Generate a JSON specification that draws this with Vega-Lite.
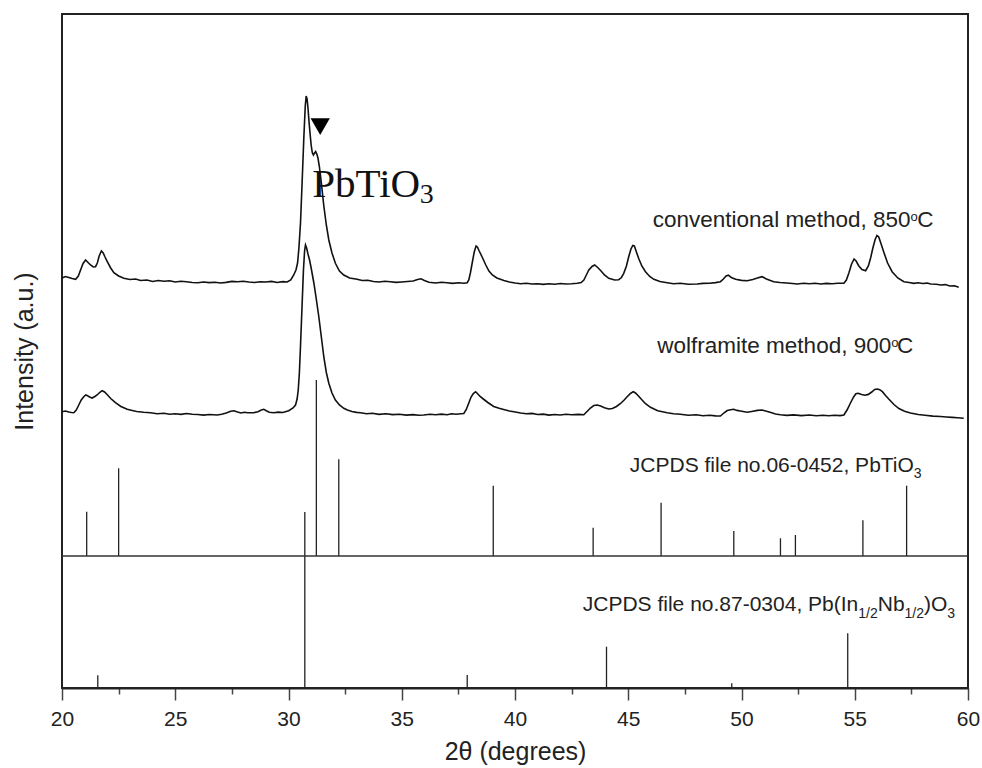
{
  "$schema": "https://vega.github.io/schema/vega-lite/v6.json",
  "width": 906,
  "height": 674,
  "autosize": "none",
  "padding": {"left": 62, "top": 14, "right": 14, "bottom": 80},
  "background": "white",
  "config": {
    "view": {"stroke": "#222", "strokeWidth": 2},
    "font": "Liberation Sans",
    "axis": {"grid": false, "labelFont": "Liberation Sans", "titleFont": "Liberation Sans", "labelColor": "#222", "titleColor": "#222", "titleFontWeight": "normal"}
  },
  "datasets": {
    "scans": [
      {"sample": "conventional", "theta": 20.00, "intensity": 410},
      {"sample": "conventional", "theta": 20.15, "intensity": 411.5},
      {"sample": "conventional", "theta": 20.30, "intensity": 410.5},
      {"sample": "conventional", "theta": 20.45, "intensity": 409.5},
      {"sample": "conventional", "theta": 20.60, "intensity": 408.7},
      {"sample": "conventional", "theta": 20.72, "intensity": 412},
      {"sample": "conventional", "theta": 20.82, "intensity": 418},
      {"sample": "conventional", "theta": 20.93, "intensity": 424.5},
      {"sample": "conventional", "theta": 21.04, "intensity": 428},
      {"sample": "conventional", "theta": 21.15, "intensity": 425.5},
      {"sample": "conventional", "theta": 21.26, "intensity": 423},
      {"sample": "conventional", "theta": 21.38, "intensity": 421},
      {"sample": "conventional", "theta": 21.48, "intensity": 421.3},
      {"sample": "conventional", "theta": 21.56, "intensity": 425},
      {"sample": "conventional", "theta": 21.64, "intensity": 432},
      {"sample": "conventional", "theta": 21.74, "intensity": 437},
      {"sample": "conventional", "theta": 21.82, "intensity": 435},
      {"sample": "conventional", "theta": 21.90, "intensity": 431},
      {"sample": "conventional", "theta": 22.00, "intensity": 426.3},
      {"sample": "conventional", "theta": 22.15, "intensity": 420},
      {"sample": "conventional", "theta": 22.29, "intensity": 415.3},
      {"sample": "conventional", "theta": 22.50, "intensity": 412},
      {"sample": "conventional", "theta": 22.73, "intensity": 409.7},
      {"sample": "conventional", "theta": 23.00, "intensity": 408.5},
      {"sample": "conventional", "theta": 23.25, "intensity": 409},
      {"sample": "conventional", "theta": 23.47, "intensity": 407.5},
      {"sample": "conventional", "theta": 23.75, "intensity": 408},
      {"sample": "conventional", "theta": 24.00, "intensity": 406.5},
      {"sample": "conventional", "theta": 24.25, "intensity": 407.5},
      {"sample": "conventional", "theta": 24.50, "intensity": 406.8},
      {"sample": "conventional", "theta": 24.75, "intensity": 407.3},
      {"sample": "conventional", "theta": 25.00, "intensity": 406},
      {"sample": "conventional", "theta": 25.25, "intensity": 406.8},
      {"sample": "conventional", "theta": 25.50, "intensity": 406.2},
      {"sample": "conventional", "theta": 25.75, "intensity": 405.5},
      {"sample": "conventional", "theta": 26.00, "intensity": 405.2},
      {"sample": "conventional", "theta": 26.25, "intensity": 406},
      {"sample": "conventional", "theta": 26.50, "intensity": 405.4},
      {"sample": "conventional", "theta": 26.75, "intensity": 405.8},
      {"sample": "conventional", "theta": 27.00, "intensity": 405},
      {"sample": "conventional", "theta": 27.25, "intensity": 405.6},
      {"sample": "conventional", "theta": 27.50, "intensity": 406.6},
      {"sample": "conventional", "theta": 27.75, "intensity": 406.2},
      {"sample": "conventional", "theta": 28.00, "intensity": 406.8},
      {"sample": "conventional", "theta": 28.25, "intensity": 406},
      {"sample": "conventional", "theta": 28.50, "intensity": 405.5},
      {"sample": "conventional", "theta": 28.75, "intensity": 406.3},
      {"sample": "conventional", "theta": 29.00, "intensity": 406},
      {"sample": "conventional", "theta": 29.25, "intensity": 406.6},
      {"sample": "conventional", "theta": 29.50, "intensity": 405.5},
      {"sample": "conventional", "theta": 29.75, "intensity": 406.4},
      {"sample": "conventional", "theta": 29.94, "intensity": 406},
      {"sample": "conventional", "theta": 30.10, "intensity": 408},
      {"sample": "conventional", "theta": 30.23, "intensity": 413},
      {"sample": "conventional", "theta": 30.33, "intensity": 418},
      {"sample": "conventional", "theta": 30.40, "intensity": 425},
      {"sample": "conventional", "theta": 30.46, "intensity": 440},
      {"sample": "conventional", "theta": 30.53, "intensity": 465},
      {"sample": "conventional", "theta": 30.60, "intensity": 505},
      {"sample": "conventional", "theta": 30.68, "intensity": 552},
      {"sample": "conventional", "theta": 30.74, "intensity": 582},
      {"sample": "conventional", "theta": 30.78, "intensity": 592},
      {"sample": "conventional", "theta": 30.82, "intensity": 589},
      {"sample": "conventional", "theta": 30.86, "intensity": 580},
      {"sample": "conventional", "theta": 30.90, "intensity": 568},
      {"sample": "conventional", "theta": 30.95, "intensity": 555},
      {"sample": "conventional", "theta": 31.00, "intensity": 543},
      {"sample": "conventional", "theta": 31.05, "intensity": 535.5},
      {"sample": "conventional", "theta": 31.10, "intensity": 533},
      {"sample": "conventional", "theta": 31.15, "intensity": 535},
      {"sample": "conventional", "theta": 31.20, "intensity": 536.5},
      {"sample": "conventional", "theta": 31.25, "intensity": 534},
      {"sample": "conventional", "theta": 31.30, "intensity": 530},
      {"sample": "conventional", "theta": 31.36, "intensity": 522},
      {"sample": "conventional", "theta": 31.45, "intensity": 505},
      {"sample": "conventional", "theta": 31.56, "intensity": 482},
      {"sample": "conventional", "theta": 31.67, "intensity": 463},
      {"sample": "conventional", "theta": 31.78, "intensity": 448},
      {"sample": "conventional", "theta": 31.92, "intensity": 435},
      {"sample": "conventional", "theta": 32.07, "intensity": 424.7},
      {"sample": "conventional", "theta": 32.25, "intensity": 417},
      {"sample": "conventional", "theta": 32.44, "intensity": 413},
      {"sample": "conventional", "theta": 32.70, "intensity": 410},
      {"sample": "conventional", "theta": 33.03, "intensity": 408.7},
      {"sample": "conventional", "theta": 33.25, "intensity": 407.5},
      {"sample": "conventional", "theta": 33.50, "intensity": 407.8},
      {"sample": "conventional", "theta": 33.75, "intensity": 406.5},
      {"sample": "conventional", "theta": 34.00, "intensity": 406},
      {"sample": "conventional", "theta": 34.25, "intensity": 406.8},
      {"sample": "conventional", "theta": 34.50, "intensity": 406.2},
      {"sample": "conventional", "theta": 34.75, "intensity": 405.6},
      {"sample": "conventional", "theta": 35.00, "intensity": 406},
      {"sample": "conventional", "theta": 35.25, "intensity": 406.5},
      {"sample": "conventional", "theta": 35.50, "intensity": 407},
      {"sample": "conventional", "theta": 35.70, "intensity": 408.5},
      {"sample": "conventional", "theta": 35.85, "intensity": 409.2},
      {"sample": "conventional", "theta": 36.00, "intensity": 407.5},
      {"sample": "conventional", "theta": 36.20, "intensity": 405.8},
      {"sample": "conventional", "theta": 36.50, "intensity": 405},
      {"sample": "conventional", "theta": 36.75, "intensity": 405.7},
      {"sample": "conventional", "theta": 37.00, "intensity": 405.3},
      {"sample": "conventional", "theta": 37.25, "intensity": 404.6},
      {"sample": "conventional", "theta": 37.50, "intensity": 405.2},
      {"sample": "conventional", "theta": 37.75, "intensity": 404.8},
      {"sample": "conventional", "theta": 37.89, "intensity": 405.3},
      {"sample": "conventional", "theta": 37.96, "intensity": 408},
      {"sample": "conventional", "theta": 38.03, "intensity": 415},
      {"sample": "conventional", "theta": 38.11, "intensity": 425},
      {"sample": "conventional", "theta": 38.20, "intensity": 436},
      {"sample": "conventional", "theta": 38.28, "intensity": 442},
      {"sample": "conventional", "theta": 38.34, "intensity": 441},
      {"sample": "conventional", "theta": 38.42, "intensity": 437},
      {"sample": "conventional", "theta": 38.55, "intensity": 431},
      {"sample": "conventional", "theta": 38.70, "intensity": 423.5},
      {"sample": "conventional", "theta": 38.85, "intensity": 417},
      {"sample": "conventional", "theta": 39.00, "intensity": 413},
      {"sample": "conventional", "theta": 39.20, "intensity": 410},
      {"sample": "conventional", "theta": 39.51, "intensity": 407.5},
      {"sample": "conventional", "theta": 39.75, "intensity": 406},
      {"sample": "conventional", "theta": 40.00, "intensity": 405},
      {"sample": "conventional", "theta": 40.25, "intensity": 404.2},
      {"sample": "conventional", "theta": 40.50, "intensity": 404.8},
      {"sample": "conventional", "theta": 40.75, "intensity": 404},
      {"sample": "conventional", "theta": 41.00, "intensity": 404.3},
      {"sample": "conventional", "theta": 41.25, "intensity": 403.6},
      {"sample": "conventional", "theta": 41.50, "intensity": 404.2},
      {"sample": "conventional", "theta": 41.75, "intensity": 403.8},
      {"sample": "conventional", "theta": 42.00, "intensity": 404.5},
      {"sample": "conventional", "theta": 42.25, "intensity": 404},
      {"sample": "conventional", "theta": 42.50, "intensity": 404.2},
      {"sample": "conventional", "theta": 42.75, "intensity": 404.7},
      {"sample": "conventional", "theta": 42.92, "intensity": 405.5},
      {"sample": "conventional", "theta": 43.04, "intensity": 408},
      {"sample": "conventional", "theta": 43.15, "intensity": 413},
      {"sample": "conventional", "theta": 43.26, "intensity": 418},
      {"sample": "conventional", "theta": 43.40, "intensity": 421.5},
      {"sample": "conventional", "theta": 43.52, "intensity": 423},
      {"sample": "conventional", "theta": 43.65, "intensity": 420.5},
      {"sample": "conventional", "theta": 43.78, "intensity": 417.5},
      {"sample": "conventional", "theta": 43.95, "intensity": 413},
      {"sample": "conventional", "theta": 44.14, "intensity": 409.7},
      {"sample": "conventional", "theta": 44.40, "intensity": 408},
      {"sample": "conventional", "theta": 44.58, "intensity": 408.3},
      {"sample": "conventional", "theta": 44.70, "intensity": 410.5},
      {"sample": "conventional", "theta": 44.80, "intensity": 414.7},
      {"sample": "conventional", "theta": 44.92, "intensity": 422},
      {"sample": "conventional", "theta": 45.02, "intensity": 431.3},
      {"sample": "conventional", "theta": 45.12, "intensity": 439},
      {"sample": "conventional", "theta": 45.20, "intensity": 442.5},
      {"sample": "conventional", "theta": 45.27, "intensity": 442},
      {"sample": "conventional", "theta": 45.36, "intensity": 436},
      {"sample": "conventional", "theta": 45.47, "intensity": 429},
      {"sample": "conventional", "theta": 45.60, "intensity": 422},
      {"sample": "conventional", "theta": 45.76, "intensity": 416.3},
      {"sample": "conventional", "theta": 45.95, "intensity": 411.5},
      {"sample": "conventional", "theta": 46.13, "intensity": 408.7},
      {"sample": "conventional", "theta": 46.40, "intensity": 406.5},
      {"sample": "conventional", "theta": 46.72, "intensity": 405.3},
      {"sample": "conventional", "theta": 47.00, "intensity": 404.2},
      {"sample": "conventional", "theta": 47.30, "intensity": 404.8},
      {"sample": "conventional", "theta": 47.65, "intensity": 403.8},
      {"sample": "conventional", "theta": 48.04, "intensity": 404},
      {"sample": "conventional", "theta": 48.30, "intensity": 404.6},
      {"sample": "conventional", "theta": 48.60, "intensity": 404.8},
      {"sample": "conventional", "theta": 48.85, "intensity": 405.4},
      {"sample": "conventional", "theta": 49.07, "intensity": 406.3},
      {"sample": "conventional", "theta": 49.20, "intensity": 409},
      {"sample": "conventional", "theta": 49.32, "intensity": 412},
      {"sample": "conventional", "theta": 49.42, "intensity": 412.8},
      {"sample": "conventional", "theta": 49.55, "intensity": 410.5},
      {"sample": "conventional", "theta": 49.74, "intensity": 408.7},
      {"sample": "conventional", "theta": 50.00, "intensity": 407.6},
      {"sample": "conventional", "theta": 50.25, "intensity": 407.3},
      {"sample": "conventional", "theta": 50.50, "intensity": 408.5},
      {"sample": "conventional", "theta": 50.70, "intensity": 410},
      {"sample": "conventional", "theta": 50.91, "intensity": 411.3},
      {"sample": "conventional", "theta": 51.10, "intensity": 409},
      {"sample": "conventional", "theta": 51.42, "intensity": 406.3},
      {"sample": "conventional", "theta": 51.70, "intensity": 405.5},
      {"sample": "conventional", "theta": 52.00, "intensity": 405},
      {"sample": "conventional", "theta": 52.25, "intensity": 404.5},
      {"sample": "conventional", "theta": 52.46, "intensity": 404},
      {"sample": "conventional", "theta": 52.75, "intensity": 404.7},
      {"sample": "conventional", "theta": 53.00, "intensity": 404.3},
      {"sample": "conventional", "theta": 53.25, "intensity": 404.8},
      {"sample": "conventional", "theta": 53.50, "intensity": 404},
      {"sample": "conventional", "theta": 53.75, "intensity": 404.6},
      {"sample": "conventional", "theta": 54.00, "intensity": 404.2},
      {"sample": "conventional", "theta": 54.25, "intensity": 404.8},
      {"sample": "conventional", "theta": 54.52, "intensity": 404.7},
      {"sample": "conventional", "theta": 54.63, "intensity": 408},
      {"sample": "conventional", "theta": 54.74, "intensity": 415},
      {"sample": "conventional", "theta": 54.86, "intensity": 424},
      {"sample": "conventional", "theta": 54.97, "intensity": 429},
      {"sample": "conventional", "theta": 55.06, "intensity": 427},
      {"sample": "conventional", "theta": 55.18, "intensity": 422},
      {"sample": "conventional", "theta": 55.32, "intensity": 418.5},
      {"sample": "conventional", "theta": 55.48, "intensity": 417.3},
      {"sample": "conventional", "theta": 55.60, "intensity": 422},
      {"sample": "conventional", "theta": 55.70, "intensity": 430},
      {"sample": "conventional", "theta": 55.80, "intensity": 440},
      {"sample": "conventional", "theta": 55.90, "intensity": 448.5},
      {"sample": "conventional", "theta": 55.98, "intensity": 452.5},
      {"sample": "conventional", "theta": 56.06, "intensity": 451},
      {"sample": "conventional", "theta": 56.15, "intensity": 445},
      {"sample": "conventional", "theta": 56.28, "intensity": 436},
      {"sample": "conventional", "theta": 56.45, "intensity": 425},
      {"sample": "conventional", "theta": 56.65, "intensity": 416.3},
      {"sample": "conventional", "theta": 56.90, "intensity": 410},
      {"sample": "conventional", "theta": 57.17, "intensity": 406.3},
      {"sample": "conventional", "theta": 57.40, "intensity": 405.5},
      {"sample": "conventional", "theta": 57.60, "intensity": 404.6},
      {"sample": "conventional", "theta": 57.80, "intensity": 405.2},
      {"sample": "conventional", "theta": 58.00, "intensity": 404.5},
      {"sample": "conventional", "theta": 58.20, "intensity": 404.9},
      {"sample": "conventional", "theta": 58.35, "intensity": 404},
      {"sample": "conventional", "theta": 58.60, "intensity": 403.7},
      {"sample": "conventional", "theta": 58.80, "intensity": 403},
      {"sample": "conventional", "theta": 59.00, "intensity": 403.4},
      {"sample": "conventional", "theta": 59.20, "intensity": 402},
      {"sample": "conventional", "theta": 59.40, "intensity": 402.2},
      {"sample": "conventional", "theta": 59.59, "intensity": 400.7},
      {"sample": "wolframite", "theta": 20.00, "intensity": 276.3},
      {"sample": "wolframite", "theta": 20.15, "intensity": 277},
      {"sample": "wolframite", "theta": 20.30, "intensity": 276},
      {"sample": "wolframite", "theta": 20.42, "intensity": 275.5},
      {"sample": "wolframite", "theta": 20.52, "intensity": 275.3},
      {"sample": "wolframite", "theta": 20.63, "intensity": 278},
      {"sample": "wolframite", "theta": 20.74, "intensity": 283},
      {"sample": "wolframite", "theta": 20.85, "intensity": 288},
      {"sample": "wolframite", "theta": 20.96, "intensity": 291.3},
      {"sample": "wolframite", "theta": 21.05, "intensity": 293},
      {"sample": "wolframite", "theta": 21.11, "intensity": 292.5},
      {"sample": "wolframite", "theta": 21.22, "intensity": 291},
      {"sample": "wolframite", "theta": 21.33, "intensity": 290},
      {"sample": "wolframite", "theta": 21.45, "intensity": 291.5},
      {"sample": "wolframite", "theta": 21.55, "intensity": 293},
      {"sample": "wolframite", "theta": 21.66, "intensity": 295.5},
      {"sample": "wolframite", "theta": 21.77, "intensity": 297.3},
      {"sample": "wolframite", "theta": 21.88, "intensity": 296},
      {"sample": "wolframite", "theta": 21.99, "intensity": 293.5},
      {"sample": "wolframite", "theta": 22.15, "intensity": 289.5},
      {"sample": "wolframite", "theta": 22.36, "intensity": 285.3},
      {"sample": "wolframite", "theta": 22.60, "intensity": 281.5},
      {"sample": "wolframite", "theta": 22.88, "intensity": 278.7},
      {"sample": "wolframite", "theta": 23.10, "intensity": 277.5},
      {"sample": "wolframite", "theta": 23.30, "intensity": 276.5},
      {"sample": "wolframite", "theta": 23.60, "intensity": 275.7},
      {"sample": "wolframite", "theta": 23.91, "intensity": 275.3},
      {"sample": "wolframite", "theta": 24.20, "intensity": 274.3},
      {"sample": "wolframite", "theta": 24.50, "intensity": 274.8},
      {"sample": "wolframite", "theta": 24.75, "intensity": 273.8},
      {"sample": "wolframite", "theta": 25.00, "intensity": 274.2},
      {"sample": "wolframite", "theta": 25.25, "intensity": 273.6},
      {"sample": "wolframite", "theta": 25.50, "intensity": 274.5},
      {"sample": "wolframite", "theta": 25.75, "intensity": 273.7},
      {"sample": "wolframite", "theta": 26.00, "intensity": 273.5},
      {"sample": "wolframite", "theta": 26.25, "intensity": 272.9},
      {"sample": "wolframite", "theta": 26.50, "intensity": 273.5},
      {"sample": "wolframite", "theta": 26.85, "intensity": 273},
      {"sample": "wolframite", "theta": 27.05, "intensity": 273.8},
      {"sample": "wolframite", "theta": 27.25, "intensity": 275},
      {"sample": "wolframite", "theta": 27.45, "intensity": 276.8},
      {"sample": "wolframite", "theta": 27.59, "intensity": 277.3},
      {"sample": "wolframite", "theta": 27.75, "intensity": 276},
      {"sample": "wolframite", "theta": 27.90, "intensity": 275},
      {"sample": "wolframite", "theta": 28.05, "intensity": 275.7},
      {"sample": "wolframite", "theta": 28.20, "intensity": 275.2},
      {"sample": "wolframite", "theta": 28.47, "intensity": 275.3},
      {"sample": "wolframite", "theta": 28.65, "intensity": 276.3},
      {"sample": "wolframite", "theta": 28.80, "intensity": 278},
      {"sample": "wolframite", "theta": 28.91, "intensity": 278.7},
      {"sample": "wolframite", "theta": 29.02, "intensity": 277.3},
      {"sample": "wolframite", "theta": 29.15, "intensity": 275.8},
      {"sample": "wolframite", "theta": 29.35, "intensity": 275.3},
      {"sample": "wolframite", "theta": 29.55, "intensity": 275.9},
      {"sample": "wolframite", "theta": 29.75, "intensity": 275.5},
      {"sample": "wolframite", "theta": 30.01, "intensity": 277.3},
      {"sample": "wolframite", "theta": 30.20, "intensity": 280},
      {"sample": "wolframite", "theta": 30.31, "intensity": 283},
      {"sample": "wolframite", "theta": 30.38, "intensity": 289},
      {"sample": "wolframite", "theta": 30.43, "intensity": 298},
      {"sample": "wolframite", "theta": 30.48, "intensity": 315},
      {"sample": "wolframite", "theta": 30.53, "intensity": 342},
      {"sample": "wolframite", "theta": 30.60, "intensity": 383},
      {"sample": "wolframite", "theta": 30.66, "intensity": 418},
      {"sample": "wolframite", "theta": 30.71, "intensity": 437},
      {"sample": "wolframite", "theta": 30.75, "intensity": 443},
      {"sample": "wolframite", "theta": 30.80, "intensity": 440},
      {"sample": "wolframite", "theta": 30.86, "intensity": 434},
      {"sample": "wolframite", "theta": 30.93, "intensity": 428},
      {"sample": "wolframite", "theta": 31.00, "intensity": 420},
      {"sample": "wolframite", "theta": 31.12, "intensity": 405},
      {"sample": "wolframite", "theta": 31.22, "intensity": 390},
      {"sample": "wolframite", "theta": 31.34, "intensity": 371},
      {"sample": "wolframite", "theta": 31.45, "intensity": 351},
      {"sample": "wolframite", "theta": 31.56, "intensity": 331},
      {"sample": "wolframite", "theta": 31.67, "intensity": 315.5},
      {"sample": "wolframite", "theta": 31.78, "intensity": 304.7},
      {"sample": "wolframite", "theta": 31.92, "intensity": 295},
      {"sample": "wolframite", "theta": 32.07, "intensity": 288},
      {"sample": "wolframite", "theta": 32.25, "intensity": 283},
      {"sample": "wolframite", "theta": 32.44, "intensity": 279.7},
      {"sample": "wolframite", "theta": 32.60, "intensity": 278},
      {"sample": "wolframite", "theta": 32.80, "intensity": 276.5},
      {"sample": "wolframite", "theta": 33.00, "intensity": 275.6},
      {"sample": "wolframite", "theta": 33.18, "intensity": 275.3},
      {"sample": "wolframite", "theta": 33.45, "intensity": 274.2},
      {"sample": "wolframite", "theta": 33.70, "intensity": 274.7},
      {"sample": "wolframite", "theta": 34.00, "intensity": 273.6},
      {"sample": "wolframite", "theta": 34.30, "intensity": 274.2},
      {"sample": "wolframite", "theta": 34.60, "intensity": 273.4},
      {"sample": "wolframite", "theta": 34.90, "intensity": 273.8},
      {"sample": "wolframite", "theta": 35.20, "intensity": 272.9},
      {"sample": "wolframite", "theta": 35.50, "intensity": 273.4},
      {"sample": "wolframite", "theta": 35.75, "intensity": 272.7},
      {"sample": "wolframite", "theta": 35.97, "intensity": 273},
      {"sample": "wolframite", "theta": 36.25, "intensity": 273.8},
      {"sample": "wolframite", "theta": 36.50, "intensity": 273.2},
      {"sample": "wolframite", "theta": 36.75, "intensity": 273.9},
      {"sample": "wolframite", "theta": 37.00, "intensity": 273.3},
      {"sample": "wolframite", "theta": 37.20, "intensity": 274.2},
      {"sample": "wolframite", "theta": 37.40, "intensity": 273.7},
      {"sample": "wolframite", "theta": 37.60, "intensity": 274.3},
      {"sample": "wolframite", "theta": 37.74, "intensity": 274.5},
      {"sample": "wolframite", "theta": 37.85, "intensity": 278.5},
      {"sample": "wolframite", "theta": 37.96, "intensity": 285},
      {"sample": "wolframite", "theta": 38.06, "intensity": 291},
      {"sample": "wolframite", "theta": 38.16, "intensity": 294.5},
      {"sample": "wolframite", "theta": 38.26, "intensity": 296.3},
      {"sample": "wolframite", "theta": 38.36, "intensity": 294},
      {"sample": "wolframite", "theta": 38.46, "intensity": 291.5},
      {"sample": "wolframite", "theta": 38.60, "intensity": 289},
      {"sample": "wolframite", "theta": 38.80, "intensity": 285.5},
      {"sample": "wolframite", "theta": 39.06, "intensity": 281.5},
      {"sample": "wolframite", "theta": 39.30, "intensity": 279.7},
      {"sample": "wolframite", "theta": 39.50, "intensity": 278.5},
      {"sample": "wolframite", "theta": 39.75, "intensity": 277},
      {"sample": "wolframite", "theta": 39.95, "intensity": 276.2},
      {"sample": "wolframite", "theta": 40.25, "intensity": 275},
      {"sample": "wolframite", "theta": 40.50, "intensity": 274.2},
      {"sample": "wolframite", "theta": 40.75, "intensity": 274.6},
      {"sample": "wolframite", "theta": 41.00, "intensity": 273.5},
      {"sample": "wolframite", "theta": 41.25, "intensity": 273.9},
      {"sample": "wolframite", "theta": 41.50, "intensity": 272.9},
      {"sample": "wolframite", "theta": 41.75, "intensity": 273.5},
      {"sample": "wolframite", "theta": 42.00, "intensity": 273},
      {"sample": "wolframite", "theta": 42.25, "intensity": 273.7},
      {"sample": "wolframite", "theta": 42.50, "intensity": 273.2},
      {"sample": "wolframite", "theta": 42.80, "intensity": 273.6},
      {"sample": "wolframite", "theta": 43.04, "intensity": 273.3},
      {"sample": "wolframite", "theta": 43.18, "intensity": 276.5},
      {"sample": "wolframite", "theta": 43.33, "intensity": 280},
      {"sample": "wolframite", "theta": 43.48, "intensity": 282.5},
      {"sample": "wolframite", "theta": 43.63, "intensity": 283},
      {"sample": "wolframite", "theta": 43.78, "intensity": 282},
      {"sample": "wolframite", "theta": 43.95, "intensity": 280.3},
      {"sample": "wolframite", "theta": 44.14, "intensity": 279},
      {"sample": "wolframite", "theta": 44.30, "intensity": 279.5},
      {"sample": "wolframite", "theta": 44.48, "intensity": 281.5},
      {"sample": "wolframite", "theta": 44.66, "intensity": 284.5},
      {"sample": "wolframite", "theta": 44.82, "intensity": 288},
      {"sample": "wolframite", "theta": 44.95, "intensity": 291.3},
      {"sample": "wolframite", "theta": 45.10, "intensity": 294.5},
      {"sample": "wolframite", "theta": 45.22, "intensity": 296.3},
      {"sample": "wolframite", "theta": 45.32, "intensity": 295},
      {"sample": "wolframite", "theta": 45.43, "intensity": 292.5},
      {"sample": "wolframite", "theta": 45.54, "intensity": 289.7},
      {"sample": "wolframite", "theta": 45.75, "intensity": 284.5},
      {"sample": "wolframite", "theta": 45.98, "intensity": 280.7},
      {"sample": "wolframite", "theta": 46.30, "intensity": 277.3},
      {"sample": "wolframite", "theta": 46.72, "intensity": 275.3},
      {"sample": "wolframite", "theta": 47.00, "intensity": 274.2},
      {"sample": "wolframite", "theta": 47.30, "intensity": 273.7},
      {"sample": "wolframite", "theta": 47.65, "intensity": 272.8},
      {"sample": "wolframite", "theta": 48.00, "intensity": 273.2},
      {"sample": "wolframite", "theta": 48.30, "intensity": 272.3},
      {"sample": "wolframite", "theta": 48.60, "intensity": 272.8},
      {"sample": "wolframite", "theta": 48.85, "intensity": 272.1},
      {"sample": "wolframite", "theta": 49.07, "intensity": 272},
      {"sample": "wolframite", "theta": 49.22, "intensity": 275},
      {"sample": "wolframite", "theta": 49.37, "intensity": 277.5},
      {"sample": "wolframite", "theta": 49.52, "intensity": 278.3},
      {"sample": "wolframite", "theta": 49.66, "intensity": 278.7},
      {"sample": "wolframite", "theta": 49.80, "intensity": 277.6},
      {"sample": "wolframite", "theta": 49.95, "intensity": 277},
      {"sample": "wolframite", "theta": 50.25, "intensity": 275.7},
      {"sample": "wolframite", "theta": 50.45, "intensity": 276.5},
      {"sample": "wolframite", "theta": 50.70, "intensity": 277.6},
      {"sample": "wolframite", "theta": 50.91, "intensity": 278},
      {"sample": "wolframite", "theta": 51.10, "intensity": 276.8},
      {"sample": "wolframite", "theta": 51.30, "intensity": 275.5},
      {"sample": "wolframite", "theta": 51.50, "intensity": 274},
      {"sample": "wolframite", "theta": 51.72, "intensity": 273.2},
      {"sample": "wolframite", "theta": 52.00, "intensity": 272.6},
      {"sample": "wolframite", "theta": 52.30, "intensity": 273.1},
      {"sample": "wolframite", "theta": 52.65, "intensity": 272.4},
      {"sample": "wolframite", "theta": 53.00, "intensity": 273},
      {"sample": "wolframite", "theta": 53.30, "intensity": 272.3},
      {"sample": "wolframite", "theta": 53.60, "intensity": 272.8},
      {"sample": "wolframite", "theta": 53.85, "intensity": 272.2},
      {"sample": "wolframite", "theta": 54.10, "intensity": 272.7},
      {"sample": "wolframite", "theta": 54.35, "intensity": 272.4},
      {"sample": "wolframite", "theta": 54.52, "intensity": 273},
      {"sample": "wolframite", "theta": 54.66, "intensity": 278},
      {"sample": "wolframite", "theta": 54.81, "intensity": 285},
      {"sample": "wolframite", "theta": 54.95, "intensity": 291},
      {"sample": "wolframite", "theta": 55.05, "intensity": 294.2},
      {"sample": "wolframite", "theta": 55.15, "intensity": 294.7},
      {"sample": "wolframite", "theta": 55.30, "intensity": 293.4},
      {"sample": "wolframite", "theta": 55.45, "intensity": 292.8},
      {"sample": "wolframite", "theta": 55.60, "intensity": 293.6},
      {"sample": "wolframite", "theta": 55.75, "intensity": 296},
      {"sample": "wolframite", "theta": 55.88, "intensity": 298.5},
      {"sample": "wolframite", "theta": 55.99, "intensity": 299},
      {"sample": "wolframite", "theta": 56.10, "intensity": 298.3},
      {"sample": "wolframite", "theta": 56.22, "intensity": 296.3},
      {"sample": "wolframite", "theta": 56.36, "intensity": 292.5},
      {"sample": "wolframite", "theta": 56.50, "intensity": 289},
      {"sample": "wolframite", "theta": 56.73, "intensity": 283.5},
      {"sample": "wolframite", "theta": 56.95, "intensity": 279.5},
      {"sample": "wolframite", "theta": 57.20, "intensity": 276.8},
      {"sample": "wolframite", "theta": 57.46, "intensity": 275},
      {"sample": "wolframite", "theta": 57.80, "intensity": 273.5},
      {"sample": "wolframite", "theta": 58.10, "intensity": 272.7},
      {"sample": "wolframite", "theta": 58.45, "intensity": 271.9},
      {"sample": "wolframite", "theta": 58.79, "intensity": 271.5},
      {"sample": "wolframite", "theta": 59.05, "intensity": 271},
      {"sample": "wolframite", "theta": 59.30, "intensity": 270.6},
      {"sample": "wolframite", "theta": 59.55, "intensity": 270.2},
      {"sample": "wolframite", "theta": 59.81, "intensity": 269.7}
    ],
    "sticks": [
      {"card": "PbTiO3 06-0452", "theta": 21.09, "top": 176.3, "base": 132},
      {"card": "PbTiO3 06-0452", "theta": 22.50, "top": 219.7, "base": 132},
      {"card": "PbTiO3 06-0452", "theta": 31.23, "top": 308, "base": 132},
      {"card": "PbTiO3 06-0452", "theta": 32.22, "top": 228.7, "base": 132},
      {"card": "PbTiO3 06-0452", "theta": 39.04, "top": 202.3, "base": 132},
      {"card": "PbTiO3 06-0452", "theta": 43.45, "top": 160.3, "base": 132},
      {"card": "PbTiO3 06-0452", "theta": 46.45, "top": 185.3, "base": 132},
      {"card": "PbTiO3 06-0452", "theta": 49.66, "top": 157, "base": 132},
      {"card": "PbTiO3 06-0452", "theta": 51.72, "top": 149.7, "base": 132},
      {"card": "PbTiO3 06-0452", "theta": 52.38, "top": 153, "base": 132},
      {"card": "PbTiO3 06-0452", "theta": 55.36, "top": 167.7, "base": 132},
      {"card": "PbTiO3 06-0452", "theta": 57.29, "top": 202.3, "base": 132},
      {"card": "PIN 87-0304", "theta": 21.58, "top": 12.7, "base": 0},
      {"card": "PIN 87-0304", "theta": 30.72, "top": 176, "base": 0},
      {"card": "PIN 87-0304", "theta": 37.89, "top": 13, "base": 0},
      {"card": "PIN 87-0304", "theta": 44.04, "top": 41.3, "base": 0},
      {"card": "PIN 87-0304", "theta": 49.57, "top": 4.7, "base": 0},
      {"card": "PIN 87-0304", "theta": 54.69, "top": 54.7, "base": 0}
    ],
    "labels": [
      {"role": "methodR", "text": "conventional method, 850", "theta": 57.46, "intensity": 461.3},
      {"role": "sup", "text": "o", "theta": 57.46, "intensity": 467.3},
      {"role": "methodL", "text": "C", "theta": 57.76, "intensity": 461.3},
      {"role": "methodR", "text": "wolframite method, 900", "theta": 56.61, "intensity": 335.3},
      {"role": "sup", "text": "o", "theta": 56.61, "intensity": 341.3},
      {"role": "methodL", "text": "C", "theta": 56.87, "intensity": 335.3},
      {"role": "mainR", "text": "JCPDS file no.06-0452, PbTiO", "theta": 57.61, "intensity": 216.3},
      {"role": "sub", "text": "3", "theta": 57.61, "intensity": 209.7},
      {"role": "mainR", "text": "JCPDS file no.87-0304, Pb(In", "theta": 55.155, "intensity": 77.3},
      {"role": "sub", "text": "1/2", "theta": 55.155, "intensity": 69.7},
      {"role": "mainL", "text": "Nb", "theta": 56.015, "intensity": 77.3},
      {"role": "sub", "text": "1/2", "theta": 57.198, "intensity": 69.7},
      {"role": "mainL", "text": ")O", "theta": 58.058, "intensity": 77.3},
      {"role": "sub", "text": "3", "theta": 59.087, "intensity": 69.7},
      {"role": "serif", "text": "PbTiO", "theta": 31.05, "intensity": 491.3},
      {"role": "serifsub", "text": "3", "theta": 35.80, "intensity": 484.7}
    ],
    "marker": [{"theta": 31.40, "intensity": 561.3}],
    "divider": [{"intensity": 132}]
  },
  "resolve": {"axis": {"x": "independent", "y": "independent"}},
  "layer": [
    {
      "data": {"name": "scans"},
      "mark": {"type": "line", "color": "#111", "strokeWidth": 1.6},
      "encoding": {
        "x": {"field": "theta", "type": "quantitative", "scale": {"domain": [20, 60], "nice": false, "zero": false},
          "axis": {"orient": "bottom", "title": "2θ (degrees)", "values": [20, 22.5, 25, 27.5, 30, 32.5, 35, 37.5, 40, 42.5, 45, 47.5, 50, 52.5, 55, 57.5, 60],
            "labelExpr": "datum.value % 5 === 0 ? format(datum.value, 'd') : ''",
            "tickSize": {"condition": {"test": "datum.value % 5 !== 0", "value": 6}, "value": 12},
            "tickWidth": 1.5, "tickColor": "#444", "domainColor": "#222", "domainWidth": 2, "labelFontSize": 21, "labelPadding": 8, "titleFontSize": 25, "titlePadding": 10, "labelFlush": false, "labelOverlap": false}},
        "y": {"field": "intensity", "type": "quantitative", "scale": {"domain": [0, 674], "nice": false, "zero": false},
          "axis": {"orient": "left", "title": "Intensity (a.u.)", "labels": false, "ticks": false, "domain": false, "titleFontSize": 25, "titlePadding": 25}},
        "detail": {"field": "sample"}
      }
    },
    {
      "data": {"name": "sticks"},
      "mark": {"type": "rule", "color": "#222", "strokeWidth": 1.3},
      "encoding": {
        "x": {"field": "theta", "type": "quantitative", "axis": null},
        "y": {"field": "top", "type": "quantitative", "axis": null},
        "y2": {"field": "base"}
      }
    },
    {
      "data": {"name": "divider"},
      "mark": {"type": "rule", "color": "#333", "strokeWidth": 1.5},
      "encoding": {"y": {"field": "intensity", "type": "quantitative", "axis": null}}
    },
    {
      "data": {"name": "marker"},
      "mark": {"type": "point", "shape": "triangle-down", "filled": true, "color": "#000", "size": 372, "opacity": 1},
      "encoding": {
        "x": {"field": "theta", "type": "quantitative", "axis": null},
        "y": {"field": "intensity", "type": "quantitative", "axis": null}
      }
    },
    {
      "data": {"name": "labels"},
      "transform": [{"filter": "datum.role === 'methodR'"}],
      "mark": {"type": "text", "align": "right", "baseline": "alphabetic", "fontSize": 22.5, "font": "Liberation Sans", "color": "#222"},
      "encoding": {
        "x": {"field": "theta", "type": "quantitative", "axis": null},
        "y": {"field": "intensity", "type": "quantitative", "axis": null},
        "text": {"field": "text"}
      }
    },
    {
      "data": {"name": "labels"},
      "transform": [{"filter": "datum.role === 'methodL'"}],
      "mark": {"type": "text", "align": "left", "baseline": "alphabetic", "fontSize": 22.5, "font": "Liberation Sans", "color": "#222"},
      "encoding": {
        "x": {"field": "theta", "type": "quantitative", "axis": null},
        "y": {"field": "intensity", "type": "quantitative", "axis": null},
        "text": {"field": "text"}
      }
    },
    {
      "data": {"name": "labels"},
      "transform": [{"filter": "datum.role === 'mainR'"}],
      "mark": {"type": "text", "align": "right", "baseline": "alphabetic", "fontSize": 21, "font": "Liberation Sans", "color": "#222"},
      "encoding": {
        "x": {"field": "theta", "type": "quantitative", "axis": null},
        "y": {"field": "intensity", "type": "quantitative", "axis": null},
        "text": {"field": "text"}
      }
    },
    {
      "data": {"name": "labels"},
      "transform": [{"filter": "datum.role === 'mainL'"}],
      "mark": {"type": "text", "align": "left", "baseline": "alphabetic", "fontSize": 21, "font": "Liberation Sans", "color": "#222"},
      "encoding": {
        "x": {"field": "theta", "type": "quantitative", "axis": null},
        "y": {"field": "intensity", "type": "quantitative", "axis": null},
        "text": {"field": "text"}
      }
    },
    {
      "data": {"name": "labels"},
      "transform": [{"filter": "datum.role === 'sub'"}],
      "mark": {"type": "text", "align": "left", "baseline": "alphabetic", "fontSize": 14, "font": "Liberation Sans", "color": "#222"},
      "encoding": {
        "x": {"field": "theta", "type": "quantitative", "axis": null},
        "y": {"field": "intensity", "type": "quantitative", "axis": null},
        "text": {"field": "text"}
      }
    },
    {
      "data": {"name": "labels"},
      "transform": [{"filter": "datum.role === 'sup'"}],
      "mark": {"type": "text", "align": "left", "baseline": "alphabetic", "fontSize": 13, "font": "Liberation Sans", "color": "#222"},
      "encoding": {
        "x": {"field": "theta", "type": "quantitative", "axis": null},
        "y": {"field": "intensity", "type": "quantitative", "axis": null},
        "text": {"field": "text"}
      }
    },
    {
      "data": {"name": "labels"},
      "transform": [{"filter": "datum.role === 'serif'"}],
      "mark": {"type": "text", "align": "left", "baseline": "alphabetic", "fontSize": 41, "font": "Liberation Serif", "color": "#111"},
      "encoding": {
        "x": {"field": "theta", "type": "quantitative", "axis": null},
        "y": {"field": "intensity", "type": "quantitative", "axis": null},
        "text": {"field": "text"}
      }
    },
    {
      "data": {"name": "labels"},
      "transform": [{"filter": "datum.role === 'serifsub'"}],
      "mark": {"type": "text", "align": "left", "baseline": "alphabetic", "fontSize": 28, "font": "Liberation Serif", "color": "#111"},
      "encoding": {
        "x": {"field": "theta", "type": "quantitative", "axis": null},
        "y": {"field": "intensity", "type": "quantitative", "axis": null},
        "text": {"field": "text"}
      }
    }
  ]
}
